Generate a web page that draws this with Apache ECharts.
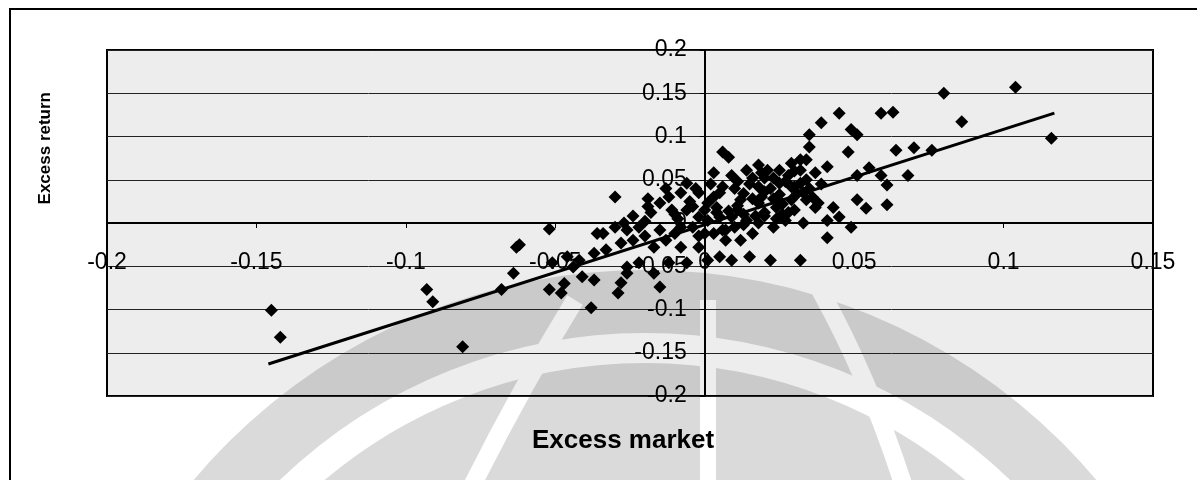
<!DOCTYPE html>
<html>
<head>
<meta charset="utf-8">
<title>Excess return vs Excess market</title>
<script src="https://cdn.jsdelivr.net/npm/echarts@6/dist/echarts.min.js"></script>
<style>
  html, body { margin: 0; padding: 0; background: #fff; }
  #chart { width: 1197px; height: 480px; }
</style>
</head>
<body>
<div id="chart"></div>
<script>
// excess market (x) / excess return (y)
const marketX = [
  -0.145, -0.142, -0.093, -0.091, -0.081, -0.064, -0.062, -0.063, -0.068, -0.052,
  -0.051, -0.052, -0.048, -0.047, -0.038, -0.029, -0.015, -0.027, -0.036, -0.026,
  -0.028, -0.030, -0.046, -0.044, -0.041, -0.037, -0.022, -0.017, -0.012, -0.026,
  -0.006, -0.024, -0.028, -0.033, -0.037, -0.042, -0.034, -0.008, -0.013, -0.017,
  -0.002, 0.001, 0.005, 0.009, 0.015, 0.003, 0.007, 0.012, 0.016, -0.008,
  -0.004, 0.001, 0.005, 0.009, 0.014, 0.018, 0.023, 0.027, -0.018, -0.022,
  -0.026, -0.015, -0.015, -0.011, -0.006, -0.002, 0.003, 0.005, 0.001, 0.012,
  0.018, 0.024, 0.029, 0.033, 0.009, 0.014, 0.018, 0.021, 0.025, 0.029,
  0.032, 0.034, -0.006, 0.006, 0.008, 0.022, 0.032, 0.015, 0.022, 0.027,
  0.010, 0.019, 0.025, 0.030, -0.019, -0.012, -0.002, -0.004, 0.018, 0.025,
  0.029, 0.032, 0.104, 0.080, 0.086, 0.116, 0.045, 0.059, 0.063, 0.039,
  0.049, 0.051, 0.035, 0.048, 0.064, 0.070, 0.076, 0.055, 0.068, 0.059,
  0.061, 0.051, 0.037, 0.041, 0.034, 0.035, 0.032, 0.034, 0.037, 0.043,
  0.045, 0.041, 0.033, 0.051, 0.054, 0.061, 0.049, 0.041, 0.038, 0.020,
  0.011, -0.009, 0.013, 0.004, 0.020, 0.026, -0.020, 0.000, 0.007, 0.017,
  -0.010, -0.005, 0.000, 0.004, 0.008, 0.011, 0.013, 0.016, 0.020, 0.023,
  0.026, 0.030, 0.031, 0.028, 0.023, 0.016, 0.011, 0.006, 0.002, -0.003,
  -0.008, 0.010, 0.013, 0.020, 0.024, 0.028, 0.006, -0.002, -0.010, -0.020,
  -0.030, -0.024, -0.019, 0.035, 0.036, 0.039, 0.030, 0.019, 0.003, -0.013
];
const returnY = [
  -0.101, -0.132, -0.077, -0.091, -0.143, -0.058, -0.025, -0.028, -0.077, -0.007,
  -0.046, -0.077, -0.081, -0.070, -0.098, -0.081, -0.074, 0.000, -0.012, -0.058,
  -0.069, 0.030, -0.039, -0.051, -0.062, -0.066, -0.046, -0.058, -0.046, -0.051,
  -0.046, -0.020, -0.023, -0.031, -0.035, -0.043, -0.012, -0.028, -0.020, -0.028,
  -0.028, -0.043, -0.039, -0.043, -0.039, -0.012, -0.020, -0.020, -0.012, -0.005,
  -0.005, 0.003, 0.007, 0.007, 0.003, 0.000, -0.005, 0.003, 0.012, -0.005,
  -0.008, -0.008, 0.023, 0.015, 0.015, 0.007, 0.030, 0.035, 0.023, 0.027,
  0.023, 0.018, 0.027, 0.035, 0.055, 0.061, 0.067, 0.061, 0.061, 0.069,
  0.073, 0.050, 0.046, 0.082, 0.076, -0.043, -0.043, 0.045, 0.040, 0.048,
  0.040, 0.030, 0.033, 0.042, 0.019, 0.030, 0.035, 0.019, 0.042, 0.046,
  0.042, 0.046, 0.157, 0.150, 0.117, 0.098, 0.127, 0.127, 0.128, 0.116,
  0.108, 0.102, 0.102, 0.082, 0.084, 0.087, 0.084, 0.064, 0.055, 0.055,
  0.044, 0.055, 0.058, 0.065, 0.073, 0.088, 0.061, 0.027, 0.018, 0.018,
  0.007, 0.003, 0.000, 0.027, 0.017, 0.021, -0.005, -0.017, 0.023, 0.012,
  0.015, 0.005, -0.002, 0.012, 0.052, 0.010, 0.002, -0.012, -0.008, 0.008,
  0.010, 0.025, 0.015, 0.018, 0.014, 0.020, 0.034, 0.028, 0.036, 0.028,
  0.022, 0.015, 0.034, 0.055, 0.052, 0.052, 0.048, 0.042, 0.045, 0.040,
  0.035, -0.005, 0.010, 0.008, 0.005, 0.012, -0.008, -0.015, -0.012, -0.015,
  -0.005, 0.008, 0.028, 0.040, 0.030, 0.045, 0.060, 0.058, 0.058, 0.040
];
// fitted line end points
const trendX = [-0.146, 0.117];
const trendY = [-0.163, 0.127];

const xTicks = { min: -0.2, max: 0.15, step: 0.05 };
const yTicks = { min: -0.2, max: 0.2, step: 0.05 };

const points = marketX.map((x, i) => [x, returnY[i]]);
const trend = trendX.map((x, i) => [x, trendY[i]]);

const gridBox = { left: 107, right: 44, top: 50, bottom: 84 };
const plotW = 1197 - gridBox.left - gridBox.right;
const plotH = 480 - gridBox.top - gridBox.bottom;
// move both axes (and their labels) onto the zero lines
const xOffset = -plotH * (0 - yTicks.min) / (yTicks.max - yTicks.min);
const yOffset = -plotW * (0 - xTicks.min) / (xTicks.max - xTicks.min);

const chart = echarts.init(document.getElementById('chart'));
const font = 'Liberation Sans, Arial, sans-serif';

const option = {
  backgroundColor: '#fff',
  animation: false,
  graphic: [
    // faint watermark behind the chart
    { type: 'circle', z: -10, shape: { cx: 645, cy: 860, r: 590 }, style: { fill: '#dadada' } },
    { type: 'circle', z: -9, shape: { cx: 645, cy: 860, r: 512 }, style: { fill: 'none', stroke: '#fff', lineWidth: 30 } },
    { type: 'rect', z: -9, shape: { x: 700, y: 300, width: 16, height: 200 }, style: { fill: '#fff' } },
    { type: 'bezierCurve', z: -9, shape: { x1: 575, y1: 300, cpx1: 520, cpy1: 390, x2: 470, y2: 490 }, style: { stroke: '#fff', lineWidth: 18, fill: 'none' } },
    { type: 'bezierCurve', z: -9, shape: { x1: 820, y1: 290, cpx1: 870, cpy1: 380, x2: 905, y2: 490 }, style: { stroke: '#fff', lineWidth: 18, fill: 'none' } },
    // outer frame
    { type: 'rect', z: 100, shape: { x: 10, y: 9, width: 1200, height: 480 }, style: { fill: 'none', stroke: '#000', lineWidth: 2 } },
    // axis titles
    { type: 'text', z: 100, left: 37, top: 92, rotation: Math.PI / 2, style: { text: 'Excess return', font: 'bold 17px ' + font, fill: '#000' } },
    { type: 'text', z: 100, left: 532, top: 428, style: { text: 'Excess market', font: 'bold 26px ' + font, fill: '#000' } }
  ],
  grid: {
    left: gridBox.left, right: gridBox.right, top: gridBox.top, bottom: gridBox.bottom,
    show: true,
    backgroundColor: 'rgba(0,0,0,0.07)',
    borderColor: '#000',
    borderWidth: 2
  },
  xAxis: {
    type: 'value',
    min: xTicks.min, max: xTicks.max, interval: xTicks.step,
    offset: xOffset,
    axisLine: { onZero: false, lineStyle: { color: '#000', width: 2 } },
    axisTick: { show: true, length: 5, lineStyle: { color: '#000' } },
    axisLabel: { color: '#000', fontSize: 23, fontFamily: font, margin: 28 },
    splitLine: { show: false }
  },
  yAxis: {
    type: 'value',
    min: yTicks.min, max: yTicks.max, interval: yTicks.step,
    offset: yOffset,
    axisLine: { onZero: false, lineStyle: { color: '#000', width: 2 } },
    axisTick: { show: true, length: 5, lineStyle: { color: '#000' } },
    axisLabel: { color: '#000', fontSize: 23, fontFamily: font, margin: 18 },
    splitLine: { show: true, lineStyle: { color: '#222', width: 1 } }
  },
  series: [
    {
      type: 'scatter',
      symbol: 'diamond',
      symbolSize: 13,
      itemStyle: { color: '#000', opacity: 1 },
      data: points
    },
    {
      type: 'line',
      symbol: 'none',
      lineStyle: { color: '#000', width: 3 },
      data: trend,
      z: 3
    }
  ]
};

chart.setOption(option);
window.addEventListener('resize', () => chart.resize());
</script>
</body>
</html>
